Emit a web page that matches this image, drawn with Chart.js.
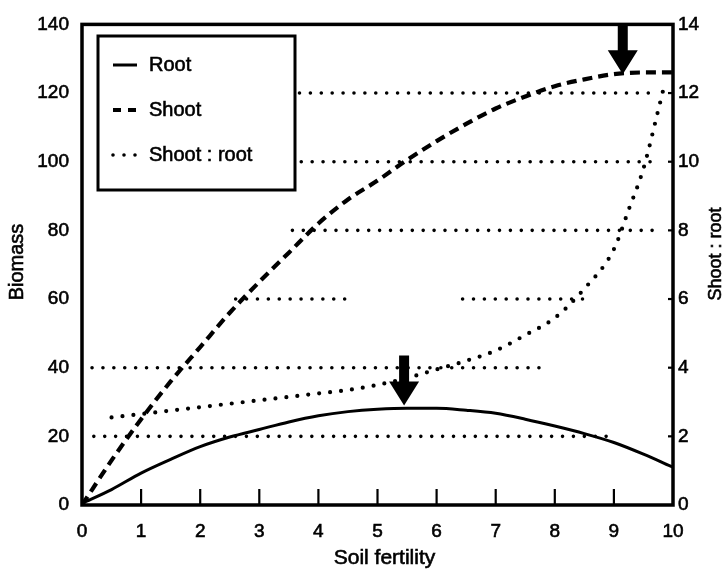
<!DOCTYPE html>
<html><head><meta charset="utf-8">
<script src="https://cdn.jsdelivr.net/npm/chart.js@4.4.1/dist/chart.umd.min.js"></script>
<style>html,body{margin:0;padding:0;background:#fff;} canvas{display:block}</style>
</head><body>
<canvas id="c" width="725" height="569"></canvas>
<script>
// ---- data ----
const fertility     = [0,0.5,1,1.5,2,2.5,3,3.5,4,4.5,5,5.5,6,6.5,7,7.5,8,8.5,9,9.5,10];
const rootBiomass   = [0.5,4.5,9.3,13.3,17,19.8,22,24.2,26,27.2,27.9,28.2,28.2,27.6,26.7,25,23,20.8,18.2,14.8,11];
const shootBiomass  = [0,13,25,36,46,56,65,73.5,82,89,94.5,100.5,106,111,115.5,119,122,124,125.5,126,126];
const ratioFertility = [0.5,1,1.5,2,2.5,3,3.5,4,4.5,5,5.5,6,6.5,7,7.5,8,8.5,9,9.25,9.5,9.75,9.85];
const shootRootRatio = [2.55,2.65,2.75,2.85,2.95,3.05,3.15,3.25,3.35,3.5,3.7,3.95,4.2,4.5,4.95,5.45,6.3,7.45,8.6,9.8,11.5,12.2];
const xTicks       = [0,1,2,3,4,5,6,7,8,9,10];
const biomassTicks = [0,20,40,60,80,100,120,140];
const ratioTicks   = [0,2,4,6,8,10,12,14];
// partial dotted reference lines (biomass level, fertility from, fertility to)
const gridLevels = [120,100,80,60,60,40,20];
const gridFrom   = [3.68,3.71,3.56,2.6,6.44,0.17,0.2];
const gridTo     = [9.73,9.66,9.81,4.6,8.54,7.83,8.93];
// arrows marking the maxima (fertility, biomass at tip)
const arrowFertility = [5.45, 9.15];
const arrowBiomass   = [29, 125.5];
const seriesNames = ['Root','Shoot','Shoot : root'];
const axisTitles = {x:'Soil fertility', y:'Biomass', y2:'Shoot : root'};

const FONT = '"Liberation Sans", Arial, Helvetica, sans-serif';
const INK = '#000';

const datasets = [
  {label: seriesNames[0], yAxisID:'y', data: fertility.map((x,i)=>({x, y: rootBiomass[i]})),
   borderColor: INK, borderWidth: 3, cubicInterpolationMode:'monotone'},
  {label: seriesNames[1], yAxisID:'y', data: fertility.map((x,i)=>({x, y: shootBiomass[i]})),
   borderColor: INK, borderWidth: 4.2, borderDash:[10,6], cubicInterpolationMode:'monotone'},
  {label: seriesNames[2], yAxisID:'y2', data: ratioFertility.map((x,i)=>({x, y: shootRootRatio[i]})),
   borderColor: INK, borderWidth: 4.2, borderDash:[0,11], borderCapStyle:'round', cubicInterpolationMode:'monotone'}
];
gridLevels.forEach((lv,i)=>{
  datasets.push({label:'grid', yAxisID:'y', data:[{x:gridFrom[i], y:lv},{x:gridTo[i], y:lv}],
    borderColor: INK, borderWidth: 3.6, borderDash:[0,10.9], borderCapStyle:'round'});
});

function boldText(ctx, t, x, y){ ctx.fillText(t, x, y); ctx.lineWidth = 0.6; ctx.strokeText(t, x, y); }

const decor = {
  id:'decor',
  afterDatasetsDraw(chart){
    const {ctx, chartArea:a, scales} = chart;
    ctx.save();
    ctx.strokeStyle = INK; ctx.fillStyle = INK;
    // frame
    ctx.lineWidth = 3.5;
    ctx.strokeRect(a.left, a.top, a.right-a.left, a.bottom-a.top);
    // inward ticks on x axis
    ctx.lineWidth = 2.2;
    xTicks.slice(1,-1).forEach(v=>{
      const px = scales.x.getPixelForValue(v);
      ctx.beginPath(); ctx.moveTo(px, a.bottom); ctx.lineTo(px, a.bottom-16); ctx.stroke();
    });
    // small inward ticks on right axis
    ratioTicks.slice(1,-1).forEach(v=>{
      const py = scales.y2.getPixelForValue(v);
      ctx.beginPath(); ctx.moveTo(a.right, py); ctx.lineTo(a.right-5, py); ctx.stroke();
    });
    // arrows
    arrowFertility.forEach((fx,i)=>{
      const px = scales.x.getPixelForValue(fx);
      const py = scales.y.getPixelForValue(arrowBiomass[i]);
      const headH = 24, headW = 30, shaftW = 10, shaftH = 26;
      ctx.beginPath();
      ctx.moveTo(px, py);
      ctx.lineTo(px-headW/2, py-headH);
      ctx.lineTo(px-shaftW/2, py-headH);
      ctx.lineTo(px-shaftW/2, py-headH-shaftH);
      ctx.lineTo(px+shaftW/2, py-headH-shaftH);
      ctx.lineTo(px+shaftW/2, py-headH);
      ctx.lineTo(px+headW/2, py-headH);
      ctx.closePath(); ctx.fill();
    });
    // legend box
    const lx = 98, ly = 36, lw = 197, lh = 154;
    ctx.fillStyle = '#fff';
    ctx.fillRect(lx, ly, lw, lh);
    ctx.fillStyle = INK;
    ctx.lineWidth = 3;
    ctx.strokeRect(lx, ly, lw, lh);
    const rows = [65, 110, 155];
    ctx.font = '20px ' + FONT;
    ctx.textBaseline = 'middle'; ctx.textAlign = 'left';
    rows.forEach((ry,i)=>{
      ctx.save();
      ctx.lineWidth = i===0 ? 3 : (i===1 ? 4.2 : 3.6);
      if (i===1) ctx.setLineDash([8,7]);
      if (i===2) { ctx.setLineDash([0,11]); ctx.lineCap='round'; }
      ctx.beginPath();
      ctx.moveTo(113, ry); ctx.lineTo(i===2 ? 139 : 137, ry); ctx.stroke();
      ctx.restore();
      boldText(ctx, seriesNames[i], 149, ry);
    });
    // axis titles
    ctx.save();
    ctx.font = '20px ' + FONT;
    ctx.textAlign = 'center'; ctx.textBaseline = 'middle';
    ctx.translate(17, 262); ctx.rotate(-Math.PI/2);
    boldText(ctx, axisTitles.y, 0, 0);
    ctx.restore();
    ctx.save();
    ctx.font = '18px ' + FONT;
    ctx.textAlign = 'center'; ctx.textBaseline = 'middle';
    ctx.translate(716, 254); ctx.rotate(-Math.PI/2);
    boldText(ctx, axisTitles.y2, 0, 0);
    ctx.restore();
    ctx.font = '21px ' + FONT;
    ctx.textAlign = 'center'; ctx.textBaseline = 'middle';
    boldText(ctx, axisTitles.x, (a.left+a.right)/2 + 7, 558);
    ctx.restore();
  }
};

const tickFont = {family: FONT, size: 19};
const tickCommon = {color:INK, font:tickFont, textStrokeColor:INK, textStrokeWidth:0.6};
new Chart(document.getElementById('c'), {
  type:'line',
  data:{datasets},
  options:{
    responsive:false, animation:false,
    layout:{padding:{top:23, left:0, right:0, bottom:0}},
    elements:{point:{radius:0}, line:{fill:false}},
    plugins:{legend:{display:false}, tooltip:{enabled:false}},
    scales:{
      x:{type:'linear', min:0, max:10,
        afterBuildTicks: s=>{ s.ticks = xTicks.map(v=>({value:v})); },
        afterFit: s=>{ s.height = 64; },
        grid:{display:false, drawTicks:false}, border:{display:false},
        ticks:{...tickCommon, padding:15, maxRotation:0}},
      y:{type:'linear', position:'left', min:0, max:140,
        afterBuildTicks: s=>{ s.ticks = biomassTicks.map(v=>({value:v})); },
        afterFit: s=>{ s.width = 82; },
        grid:{display:false, drawTicks:false}, border:{display:false},
        ticks:{...tickCommon, padding:13}},
      y2:{type:'linear', position:'right', min:0, max:14,
        afterBuildTicks: s=>{ s.ticks = ratioTicks.map(v=>({value:v})); },
        afterFit: s=>{ s.width = 52; },
        grid:{display:false, drawTicks:false}, border:{display:false},
        ticks:{...tickCommon, padding:5}}
    }
  },
  plugins:[decor]
});
</script>
</body></html>
